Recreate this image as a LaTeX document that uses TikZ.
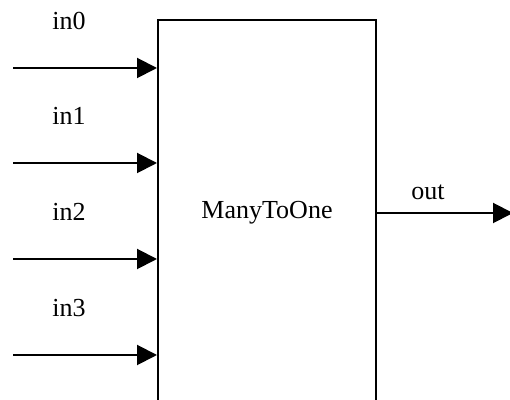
\documentclass[tikz,border=0pt]{standalone}
\usepackage{fontspec}
\setmainfont{Liberation Serif}
\usepackage{tikz}
\usetikzlibrary{arrows.meta, positioning, calc}

\begin{document}
\begin{tikzpicture}[x=0.5pt, y=-0.5pt,
    sig/.style={line width=1pt, -{Triangle[length=10pt, width=10pt]}},
    lbl/.style={font=\fontsize{13}{15}\selectfont, inner sep=0pt}]
  \useasboundingbox (0,0) rectangle (510,400);
  \clip (0,0) rectangle (510,400);
  % the block
  \node[draw, line width=1pt, minimum width=109pt, minimum height=193pt,
        anchor=north west, lbl] (mto) at (157,19) {ManyToOne};
  % inputs
  \foreach \i/\y in {0/68, 1/163, 2/259, 3/355} {
    \coordinate (in\i) at (13,\y);
    \draw[sig] (in\i) -- (in\i -| mto.west);
    \node[lbl] (lin\i) at ($(in\i)+(56,-47)$) {in\i};
  }
  % output
  \coordinate (outend) at (513,212);
  \draw[sig] (mto.east) -- (mto.east -| outend);
  \node[lbl] (lout) at (428,192) {out};
\end{tikzpicture}
\end{document}
